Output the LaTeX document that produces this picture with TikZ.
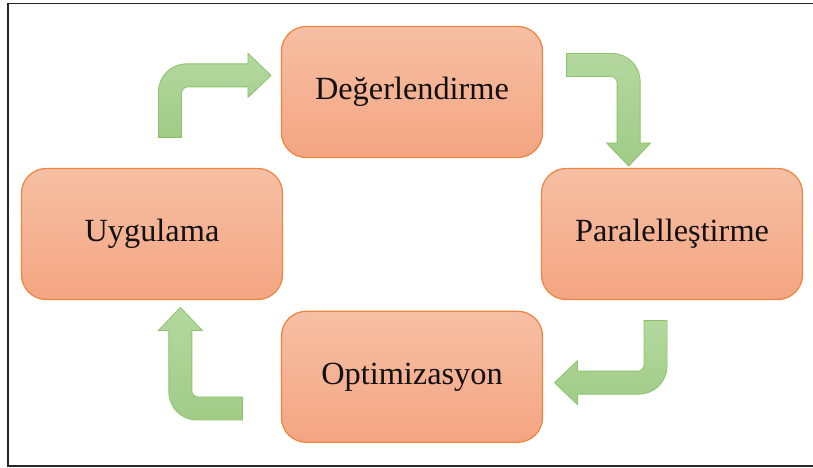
\documentclass[tikz,border=0pt]{standalone}
\usepackage{fontspec}
\setmainfont{Liberation Serif}
\definecolor{boxtop}{HTML}{F6BFA4}
\definecolor{boxbot}{HTML}{F4A582}
\definecolor{boxline}{HTML}{EF8540}
\definecolor{arrowtop}{HTML}{B4D89F}
\definecolor{arrowbot}{HTML}{A0CC87}
\definecolor{arrowline}{HTML}{8CC46C}
\definecolor{textcol}{HTML}{111111}

\begin{document}
\begin{tikzpicture}[
		stagebox/.style={rectangle, rounded corners=0.62cm, draw=boxline, line width=0.9pt,
			top color=boxtop, bottom color=boxbot, minimum width=6.525cm, minimum height=3.275cm,
			text=textcol, font=\fontsize{23}{27}\selectfont},
		bendarrow/.style={draw=arrowline, line width=0.6pt, top color=arrowtop, bottom color=arrowbot},
		turnarrow/.pic={
			\path[bendarrow] (-0.2875,0) -- (-0.2875,1.1375)
				.. controls (-0.2875,1.524) and (0.026,1.8375) .. (0.4125,1.8375)
				-- (1.95,1.8375) -- (1.95,2.1) -- (2.525,1.55) -- (1.95,1.0) -- (1.95,1.2625)
				-- (0.4375,1.2625) .. controls (0.3547,1.2625) and (0.2875,1.1797) .. (0.2875,1.1125)
				-- (0.2875,0) -- cycle;
		}
	]
  \useasboundingbox (-10.3cm, -5.85cm) rectangle (10.025cm, 5.85cm);
  \draw [line width=1.2pt, black!85] (-10.1cm, 5.7625cm) rectangle (10.8cm, -5.8cm);
  \node (deg) [stagebox] at (0cm, 3.55cm) {Değerlendirme};
  \node (uyg) [stagebox] at (-6.5cm, 0cm) {Uygulama};
  \node (par) [stagebox] at (6.5cm, 0cm) {Paralelleştirme};
  \node (opt) [stagebox] at (0cm, -3.57cm) {Optimizasyon};
  \pic at ([shift={(0.45cm, 0.7625cm)}]uyg.north) {turnarrow};
  \pic [rotate=-90] at ([shift={(0.5875cm, 0.675cm)}]deg.east) {turnarrow};
  \pic [rotate=180] at ([shift={(-0.4125cm, -0.5125cm)}]par.south) {turnarrow};
  \pic [rotate=90] at ([shift={(-0.9625cm, -0.7925cm)}]opt.west) {turnarrow};
\end{tikzpicture}
\end{document}
